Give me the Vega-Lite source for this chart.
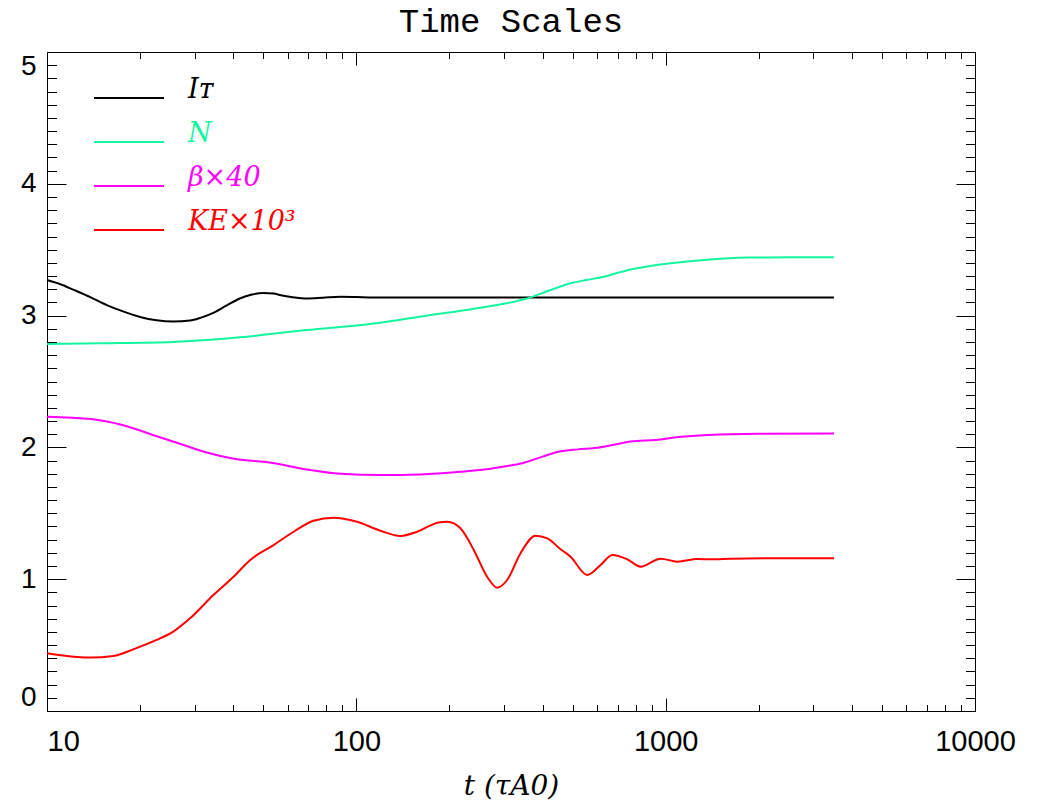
{
  "$schema": "https://vega.github.io/schema/vega-lite/v6.json",
  "width": 928,
  "height": 659,
  "autosize": {"type": "none"},
  "padding": {"left": 47, "top": 52, "right": 65, "bottom": 89},
  "background": "white",
  "title": {"text": "Time Scales", "font": "Liberation Mono", "fontSize": 34, "fontWeight": "normal", "color": "black", "baseline": "bottom", "offset": -21},
  "data": {"values": [
    {"t": 10, "v": 3.27, "s": "Iᴛ"}, {"t": 11, "v": 3.24, "s": "Iᴛ"}, {"t": 12.2, "v": 3.195, "s": "Iᴛ"}, {"t": 13.8, "v": 3.14, "s": "Iᴛ"}, {"t": 15.6, "v": 3.08, "s": "Iᴛ"}, {"t": 17.7, "v": 3.03, "s": "Iᴛ"}, {"t": 20, "v": 2.99, "s": "Iᴛ"}, {"t": 22.6, "v": 2.965, "s": "Iᴛ"}, {"t": 25.6, "v": 2.955, "s": "Iᴛ"}, {"t": 29, "v": 2.962, "s": "Iᴛ"}, {"t": 31.5, "v": 2.985, "s": "Iᴛ"}, {"t": 34.5, "v": 3.02, "s": "Iᴛ"}, {"t": 38, "v": 3.075, "s": "Iᴛ"}, {"t": 42, "v": 3.13, "s": "Iᴛ"}, {"t": 46, "v": 3.16, "s": "Iᴛ"}, {"t": 50, "v": 3.172, "s": "Iᴛ"}, {"t": 54, "v": 3.167, "s": "Iᴛ"}, {"t": 57, "v": 3.155, "s": "Iᴛ"}, {"t": 63, "v": 3.138, "s": "Iᴛ"}, {"t": 69, "v": 3.13, "s": "Iᴛ"}, {"t": 78, "v": 3.136, "s": "Iᴛ"}, {"t": 89, "v": 3.143, "s": "Iᴛ"}, {"t": 100, "v": 3.141, "s": "Iᴛ"}, {"t": 113, "v": 3.138, "s": "Iᴛ"}, {"t": 150, "v": 3.137, "s": "Iᴛ"}, {"t": 250, "v": 3.137, "s": "Iᴛ"}, {"t": 500, "v": 3.137, "s": "Iᴛ"}, {"t": 1000, "v": 3.137, "s": "Iᴛ"}, {"t": 2000, "v": 3.137, "s": "Iᴛ"}, {"t": 3500, "v": 3.137, "s": "Iᴛ"},
    {"t": 10, "v": 2.785, "s": "N"}, {"t": 15, "v": 2.79, "s": "N"}, {"t": 25.6, "v": 2.8, "s": "N"}, {"t": 42, "v": 2.835, "s": "N"}, {"t": 69, "v": 2.89, "s": "N"}, {"t": 114, "v": 2.94, "s": "N"}, {"t": 174, "v": 3.005, "s": "N"}, {"t": 230, "v": 3.045, "s": "N"}, {"t": 285, "v": 3.08, "s": "N"}, {"t": 330, "v": 3.11, "s": "N"}, {"t": 357, "v": 3.13, "s": "N"}, {"t": 420, "v": 3.19, "s": "N"}, {"t": 493, "v": 3.245, "s": "N"}, {"t": 560, "v": 3.272, "s": "N"}, {"t": 631, "v": 3.295, "s": "N"}, {"t": 700, "v": 3.325, "s": "N"}, {"t": 770, "v": 3.35, "s": "N"}, {"t": 900, "v": 3.378, "s": "N"}, {"t": 1038, "v": 3.397, "s": "N"}, {"t": 1330, "v": 3.422, "s": "N"}, {"t": 1840, "v": 3.44, "s": "N"}, {"t": 2500, "v": 3.442, "s": "N"}, {"t": 3500, "v": 3.442, "s": "N"},
    {"t": 10, "v": 2.233, "s": "β×40"}, {"t": 13.9, "v": 2.215, "s": "β×40"}, {"t": 17.5, "v": 2.17, "s": "β×40"}, {"t": 22.9, "v": 2.081, "s": "β×40"}, {"t": 27.5, "v": 2.02, "s": "β×40"}, {"t": 32.2, "v": 1.967, "s": "β×40"}, {"t": 40.6, "v": 1.912, "s": "β×40"}, {"t": 53, "v": 1.884, "s": "β×40"}, {"t": 69, "v": 1.833, "s": "β×40"}, {"t": 89, "v": 1.8, "s": "β×40"}, {"t": 120, "v": 1.79, "s": "β×40"}, {"t": 161, "v": 1.795, "s": "β×40"}, {"t": 217, "v": 1.815, "s": "β×40"}, {"t": 263, "v": 1.834, "s": "β×40"}, {"t": 300, "v": 1.855, "s": "β×40"}, {"t": 344, "v": 1.88, "s": "β×40"}, {"t": 400, "v": 1.93, "s": "β×40"}, {"t": 450, "v": 1.967, "s": "β×40"}, {"t": 520, "v": 1.985, "s": "β×40"}, {"t": 589, "v": 1.995, "s": "β×40"}, {"t": 680, "v": 2.02, "s": "β×40"}, {"t": 770, "v": 2.045, "s": "β×40"}, {"t": 928, "v": 2.057, "s": "β×40"}, {"t": 1100, "v": 2.078, "s": "β×40"}, {"t": 1368, "v": 2.094, "s": "β×40"}, {"t": 2000, "v": 2.104, "s": "β×40"}, {"t": 3500, "v": 2.106, "s": "β×40"},
    {"t": 10, "v": 0.438, "s": "KE×10³"}, {"t": 11.6, "v": 0.417, "s": "KE×10³"}, {"t": 13.8, "v": 0.405, "s": "KE×10³"}, {"t": 16.4, "v": 0.417, "s": "KE×10³"}, {"t": 19, "v": 0.468, "s": "KE×10³"}, {"t": 22.6, "v": 0.539, "s": "KE×10³"}, {"t": 25.6, "v": 0.602, "s": "KE×10³"}, {"t": 29, "v": 0.703, "s": "KE×10³"}, {"t": 34.5, "v": 0.88, "s": "KE×10³"}, {"t": 40.1, "v": 1.019, "s": "KE×10³"}, {"t": 45.4, "v": 1.146, "s": "KE×10³"}, {"t": 54, "v": 1.259, "s": "KE×10³"}, {"t": 62.7, "v": 1.36, "s": "KE×10³"}, {"t": 72.7, "v": 1.444, "s": "KE×10³"}, {"t": 84.4, "v": 1.467, "s": "KE×10³"}, {"t": 100.5, "v": 1.436, "s": "KE×10³"}, {"t": 119.6, "v": 1.368, "s": "KE×10³"}, {"t": 138.8, "v": 1.328, "s": "KE×10³"}, {"t": 157.2, "v": 1.36, "s": "KE×10³"}, {"t": 184.6, "v": 1.431, "s": "KE×10³"}, {"t": 196.6, "v": 1.436, "s": "KE×10³"}, {"t": 217, "v": 1.386, "s": "KE×10³"}, {"t": 239.7, "v": 1.222, "s": "KE×10³"}, {"t": 264.8, "v": 1.019, "s": "KE×10³"}, {"t": 285.3, "v": 0.936, "s": "KE×10³"}, {"t": 307.4, "v": 0.994, "s": "KE×10³"}, {"t": 339.5, "v": 1.197, "s": "KE×10³"}, {"t": 379.6, "v": 1.33, "s": "KE×10³"}, {"t": 414.3, "v": 1.31, "s": "KE×10³"}, {"t": 457.4, "v": 1.227, "s": "KE×10³"}, {"t": 492.6, "v": 1.171, "s": "KE×10³"}, {"t": 557.9, "v": 1.032, "s": "KE×10³"}, {"t": 616.1, "v": 1.108, "s": "KE×10³"}, {"t": 672.3, "v": 1.184, "s": "KE×10³"}, {"t": 751.6, "v": 1.151, "s": "KE×10³"}, {"t": 830, "v": 1.095, "s": "KE×10³"}, {"t": 963, "v": 1.156, "s": "KE×10³"}, {"t": 1091, "v": 1.133, "s": "KE×10³"}, {"t": 1267, "v": 1.153, "s": "KE×10³"}, {"t": 1398, "v": 1.151, "s": "KE×10³"}, {"t": 1623, "v": 1.156, "s": "KE×10³"}, {"t": 2076, "v": 1.159, "s": "KE×10³"}, {"t": 3500, "v": 1.159, "s": "KE×10³"}
  ]},
  "layer": [
    {
      "mark": {"type": "line", "strokeWidth": 2, "interpolate": "monotone"},
      "encoding": {
        "x": {"field": "t", "type": "quantitative", "scale": {"type": "log", "domain": [10, 10000], "nice": false},
          "axis": {"orient": "bottom", "values": [10, 100, 1000, 10000], "format": "d", "ticks": false, "domain": false, "grid": false,
            "labelFont": "Liberation Sans", "labelFontSize": 29, "labelColor": "black", "labelPadding": 16, "labelOverlap": false, "labelFlush": false,
            "labelAlign": {"expr": "datum.value == 10 ? 'left' : 'center'"},
            "title": "t (τA0)", "titleFont": "DejaVu Serif", "titleFontStyle": "italic", "titleFontWeight": "normal", "titleFontSize": 28, "titleColor": "black", "titlePadding": 16}},
        "y": {"field": "v", "type": "quantitative", "scale": {"domain": [0, 5], "nice": false, "zero": false},
          "axis": {"orient": "left", "values": [0, 1, 2, 3, 4, 5], "format": "d", "ticks": false, "domain": false, "grid": false,
            "labelFont": "Liberation Sans", "labelFontSize": 28, "labelColor": "black", "labelPadding": 11, "labelOverlap": false, "labelFlush": true, "title": null}},
        "color": {"field": "s", "type": "nominal",
          "scale": {"domain": ["Iᴛ", "N", "β×40", "KE×10³"], "range": ["#000000", "#14F5A0", "#FF00FF", "#FF0000"]},
          "legend": {"orient": "none", "legendX": 46, "legendY": 10, "title": null, "symbolType": "stroke", "symbolSize": 4900, "symbolStrokeWidth": 2,
            "labelFont": "DejaVu Serif", "labelFontStyle": "italic", "labelFontSize": 27, "labelBaseline": "alphabetic", "labelOffset": 23, "labelLimit": 400,
            "rowPadding": 3, "padding": 0,
            "encode": {"labels": {"update": {"fill": {"scale": "color", "field": "value"}}}}}}
      }
    },
    {
      "mark": {"type": "line", "opacity": 0},
      "encoding": {
        "x": {"field": "t", "type": "quantitative", "scale": {"type": "log", "domain": [10, 10000], "nice": false},
          "axis": {"orient": "bottom", "values": [10, 100, 1000, 10000], "labels": false, "domain": false, "grid": false, "ticks": true, "tickSize": -13, "tickColor": "black", "title": null}},
        "y": {"field": "v", "type": "quantitative", "scale": {"domain": [0, 5], "nice": false, "zero": false},
          "axis": {"orient": "left", "values": [0, 1, 2, 3, 4, 5], "labels": false, "domain": false, "grid": false, "ticks": true, "tickSize": -19, "tickColor": "black", "title": null}}
      }
    },
    {
      "mark": {"type": "line", "opacity": 0},
      "encoding": {
        "x": {"field": "t", "type": "quantitative", "scale": {"type": "log", "domain": [10, 10000], "nice": false},
          "axis": {"orient": "bottom", "values": [20, 30, 40, 50, 60, 70, 80, 90, 200, 300, 400, 500, 600, 700, 800, 900, 2000, 3000, 4000, 5000, 6000, 7000, 8000, 9000], "labels": false, "domain": false, "grid": false, "ticks": true, "tickSize": -6.5, "tickColor": "black", "title": null}},
        "y": {"field": "v", "type": "quantitative", "scale": {"domain": [0, 5], "nice": false, "zero": false},
          "axis": {"orient": "left", "values": [0.1, 0.2, 0.3, 0.4, 0.5, 0.6, 0.7, 0.8, 0.9, 1.1, 1.2, 1.3, 1.4, 1.5, 1.6, 1.7, 1.8, 1.9, 2.1, 2.2, 2.3, 2.4, 2.5, 2.6, 2.7, 2.8, 2.9, 3.1, 3.2, 3.3, 3.4, 3.5, 3.6, 3.7, 3.8, 3.9, 4.1, 4.2, 4.3, 4.4, 4.5, 4.6, 4.7, 4.8, 4.9], "labels": false, "domain": false, "grid": false, "ticks": true, "tickSize": -9.5, "tickColor": "black", "title": null}}
      }
    },
    {
      "mark": {"type": "line", "opacity": 0},
      "encoding": {
        "x": {"field": "t", "type": "quantitative", "scale": {"type": "log", "domain": [10, 10000], "nice": false},
          "axis": {"orient": "top", "values": [10, 100, 1000, 10000], "labels": false, "domain": false, "grid": false, "ticks": true, "tickSize": -13, "tickColor": "black", "title": null, "minExtent": 0, "maxExtent": 0}},
        "y": {"field": "v", "type": "quantitative", "scale": {"domain": [0, 5], "nice": false, "zero": false},
          "axis": {"orient": "right", "values": [0, 1, 2, 3, 4, 5], "labels": false, "domain": false, "grid": false, "ticks": true, "tickSize": -19, "tickColor": "black", "title": null, "minExtent": 0, "maxExtent": 0}}
      }
    },
    {
      "mark": {"type": "line", "opacity": 0},
      "encoding": {
        "x": {"field": "t", "type": "quantitative", "scale": {"type": "log", "domain": [10, 10000], "nice": false},
          "axis": {"orient": "top", "values": [20, 30, 40, 50, 60, 70, 80, 90, 200, 300, 400, 500, 600, 700, 800, 900, 2000, 3000, 4000, 5000, 6000, 7000, 8000, 9000], "labels": false, "domain": false, "grid": false, "ticks": true, "tickSize": -6.5, "tickColor": "black", "title": null, "minExtent": 0, "maxExtent": 0}},
        "y": {"field": "v", "type": "quantitative", "scale": {"domain": [0, 5], "nice": false, "zero": false},
          "axis": {"orient": "right", "values": [0.1, 0.2, 0.3, 0.4, 0.5, 0.6, 0.7, 0.8, 0.9, 1.1, 1.2, 1.3, 1.4, 1.5, 1.6, 1.7, 1.8, 1.9, 2.1, 2.2, 2.3, 2.4, 2.5, 2.6, 2.7, 2.8, 2.9, 3.1, 3.2, 3.3, 3.4, 3.5, 3.6, 3.7, 3.8, 3.9, 4.1, 4.2, 4.3, 4.4, 4.5, 4.6, 4.7, 4.8, 4.9], "labels": false, "domain": false, "grid": false, "ticks": true, "tickSize": -9.5, "tickColor": "black", "title": null, "minExtent": 0, "maxExtent": 0}}
      }
    }
  ],
  "resolve": {"axis": {"x": "independent", "y": "independent"}},
  "config": {"view": {"stroke": "black", "strokeWidth": 1}}
}
